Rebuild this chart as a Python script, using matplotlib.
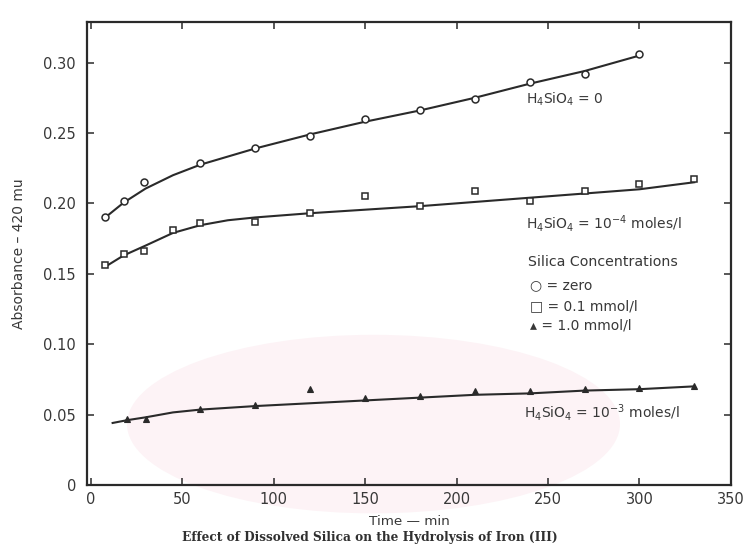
import matplotlib
matplotlib.use("Agg")
import matplotlib.pyplot as plt
import matplotlib.patches as mpatches

plt.rcParams["mathtext.default"] = "regular"
INK = "#2a2a2a"
TXT = "#383838"

# measured points (time in min, absorbance)
t_zero = [8, 18, 29, 60, 90, 120, 150, 180, 210, 240, 270, 300]
a_zero = [0.190, 0.202, 0.215, 0.229, 0.239, 0.248, 0.260, 0.266, 0.274, 0.286, 0.292, 0.306]

t_low = [8, 18, 29, 45, 60, 90, 120, 150, 180, 210, 240, 270, 300, 330]
a_low = [0.156, 0.164, 0.166, 0.181, 0.186, 0.187, 0.193, 0.205, 0.198, 0.209, 0.202, 0.209, 0.214, 0.217]

t_high = [20, 30, 60, 90, 120, 150, 180, 210, 240, 270, 300, 330]
a_high = [0.047, 0.047, 0.054, 0.057, 0.068, 0.062, 0.063, 0.067, 0.067, 0.068, 0.069, 0.070]

# hand-drawn fit curves (knots)
fit_zero_t = [8, 18, 30, 45, 60, 90, 120, 150, 180, 210, 240, 270, 300]
fit_zero_a = [0.190, 0.2005, 0.2105, 0.2200, 0.2275, 0.2390, 0.249, 0.258, 0.266, 0.275, 0.285, 0.294, 0.305]

fit_low_t = [8, 18, 30, 45, 60, 75, 90, 105, 120, 150, 180, 210, 240, 270, 300, 330]
fit_low_a = [0.155, 0.163, 0.170, 0.179, 0.1845, 0.188, 0.190, 0.1915, 0.193, 0.1955, 0.198, 0.201, 0.204, 0.207, 0.210, 0.215]

fit_high_t = [12, 20, 30, 45, 60, 90, 120, 150, 180, 210, 240, 270, 300, 330]
fit_high_a = [0.044, 0.046, 0.048, 0.0515, 0.0535, 0.056, 0.058, 0.060, 0.062, 0.064, 0.065, 0.067, 0.068, 0.070]

x_ticks = [0, 50, 100, 150, 200, 250, 300, 350]
x_labels = ["0", "50", "100", "150", "200", "250", "300", "350"]
y_ticks = [0, 0.05, 0.10, 0.15, 0.20, 0.25, 0.30]
y_labels = ["0", "0.05", "0.10", "0.15", "0.20", "0.25", "0.30"]

fig = plt.figure(figsize=(7.47, 5.58), dpi=100)
fig.patch.set_facecolor("white")

# faint watermark tint of the scanned page
fig.patches.append(mpatches.Ellipse((0.50, 0.24), 0.66, 0.32, transform=fig.transFigure,
                                    facecolor="#fdf3f6", edgecolor="none", zorder=0))

ax = fig.add_axes([0.1165, 0.131, 0.862, 0.830])
ax.set_zorder(2)
ax.set_facecolor("none")

ax.plot(fit_zero_t, fit_zero_a, color=INK, lw=1.5, zorder=2)
ax.plot(fit_low_t, fit_low_a, color=INK, lw=1.5, zorder=2)
ax.plot(fit_high_t, fit_high_a, color=INK, lw=1.5, zorder=2)

ax.plot(t_zero, a_zero, ls="none", marker="o", ms=5, mfc="white", mec=INK, mew=1.1, zorder=3)
ax.plot(t_low, a_low, ls="none", marker="s", ms=4.5, mfc="white", mec=INK, mew=1.1, zorder=3)
ax.plot(t_high, a_high, ls="none", marker="^", ms=4, mfc=INK, mec=INK, mew=0.8, zorder=3)

ax.set_xlim(-2, 350)
ax.set_ylim(0, 0.329)
ax.set_xticks(x_ticks)
ax.set_xticklabels(x_labels)
ax.set_yticks(y_ticks)
ax.set_yticklabels(y_labels)
ax.tick_params(direction="in", length=5, width=1.1, colors=INK, labelcolor=TXT,
               top=True, right=True, labelsize=10.5)
ax.tick_params(axis="y", pad=8)
ax.tick_params(axis="x", pad=5)
for s in ax.spines.values():
    s.set_linewidth(1.6)
    s.set_color(INK)

ax.set_xlabel("Time — min", fontsize=9.7, color=TXT, labelpad=6)
ax.set_ylabel("Absorbance – 420 mu", fontsize=10, color=TXT, labelpad=12)

ax.text(238, 0.274, r"H$_4$SiO$_4$ = 0", fontsize=10, color=TXT, va="center")
ax.text(238, 0.186, r"H$_4$SiO$_4$ = 10$^{-4}$ moles/l", fontsize=10, color=TXT, va="center")
ax.text(237, 0.0515, r"H$_4$SiO$_4$ = 10$^{-3}$ moles/l", fontsize=10, color=TXT, va="center")

ax.text(239, 0.1585, "Silica Concentrations", fontsize=10.2, color=TXT, va="center")
ax.text(240, 0.142, "○ = zero", fontsize=10, color=TXT, va="center")
ax.text(240, 0.127, "□ = 0.1 mmol/l", fontsize=10, color=TXT, va="center")
ax.text(240, 0.113, "▴ = 1.0 mmol/l", fontsize=10, color=TXT, va="center")

fig.text(0.495, 0.036, "Effect of Dissolved Silica on the Hydrolysis of Iron (III)",
         ha="center", va="center", fontsize=8.7, fontweight="bold",
         family="DejaVu Serif", color="#303030")

fig.savefig("out.png", dpi=100, facecolor="white")
